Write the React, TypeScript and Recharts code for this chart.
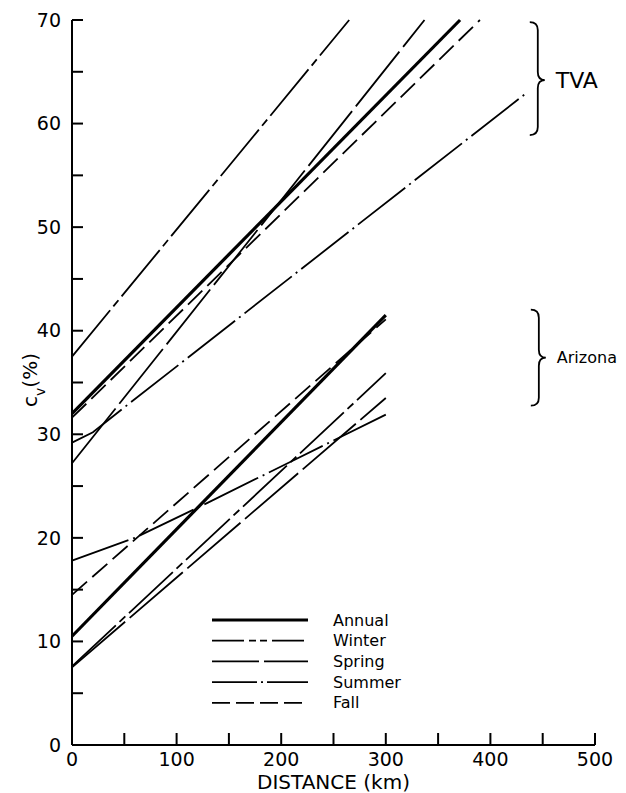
import React from "react";
import { LineChart, Line, XAxis, YAxis, ReferenceDot, Legend, Label } from "recharts";

const FONT = "DejaVu Sans";

const X_TICKS = [0, 50, 100, 150, 200, 250, 300, 350, 400, 450, 500];
const Y_TICKS = [0, 5, 10, 15, 20, 25, 30, 35, 40, 45, 50, 55, 60, 65, 70];

// [distance km, Cv %]
const tvaAnnual = [[0, 32], [371, 70]];
const tvaWinter = [[0, 37.5], [265, 70]];
const tvaSpring = [[0, 27.2], [337, 70]];
const tvaSummer = [[0, 29.2], [20, 30.2], [50, 32.6], [435, 63]];
const tvaFall = [[0, 31.6], [390, 70]];

const azAnnual = [[0, 10.5], [300, 41.5]];
const azWinter = [[0, 7.6], [300, 35.9]];
const azSpring = [[0, 7.5], [300, 33.5]];
const azSummer = [[0, 17.8], [60, 20], [130, 23.4], [210, 27.4], [300, 31.9]];
const azFall = [[0, 14.5], [300, 41.1]];

const SEASONS = ["Annual", "Winter", "Spring", "Summer", "Fall"];

const STYLE: Record<string, { w: number; dash?: string; legendDash?: string }> = {
  Annual: { w: 3.2 },
  Winter: { w: 1.8, dash: "60 5 8 5", legendDash: "32 5 7 4 7 5" },
  Spring: { w: 1.8, dash: "70 6", legendDash: "47 5" },
  Summer: { w: 1.8, dash: "60 5 2 5", legendDash: "45 4 2 4" },
  Fall: { w: 1.8, dash: "20 7", legendDash: "18 6" },
};

const toRows = (pts: number[][]) => pts.map(([d, v]) => ({ d, v }));

const tva: Record<string, number[][]> = {
  Annual: tvaAnnual, Winter: tvaWinter, Spring: tvaSpring, Summer: tvaSummer, Fall: tvaFall,
};
const az: Record<string, number[][]> = {
  Annual: azAnnual, Winter: azWinter, Spring: azSpring, Summer: azSummer, Fall: azFall,
};

const XTick = ({ x, y, payload }: any) => {
  const v = payload.value;
  return (
    <g>
      {v !== 0 && <line x1={x} x2={x} y1={y} y2={y - 12} stroke="#000" strokeWidth={2} />}
      {v % 100 === 0 && (
        <text x={x} y={y + 21} textAnchor="middle" fontFamily={FONT} fontSize={19} fill="#000">{v}</text>
      )}
    </g>
  );
};

const YTick = ({ x, y, payload }: any) => {
  const v = payload.value;
  return (
    <g>
      {v !== 0 && <line x1={x} x2={x + 11} y1={y} y2={y} stroke="#000" strokeWidth={2} />}
      {v % 10 === 0 && (
        <text x={x - 11} y={y} dy="0.35em" textAnchor="end" fontFamily={FONT} fontSize={19} fill="#000">{v}</text>
      )}
    </g>
  );
};

const XTitle = ({ viewBox }: any) => (
  <text x={viewBox.x + viewBox.width / 2} y={viewBox.y + 44} textAnchor="middle"
    fontFamily={FONT} fontSize={20} fill="#000">DISTANCE (km)</text>
);

const YTitle = ({ viewBox }: any) => {
  const cx = viewBox.x + 37;
  const cy = 380;
  return (
    <text x={cx} y={cy} transform={`rotate(-90 ${cx} ${cy})`} textAnchor="middle"
      fontFamily={FONT} fontSize={20} fill="#000">
      c<tspan fontSize={14} baselineShift="sub">v</tspan>(%)
    </text>
  );
};

// curly brace "}" with its tip at (cx, cy)
const brace = (label: string, up: number, down: number, fs: number) => ({ cx, cy }: any) => {
  const x0 = cx - 15, xm = cx - 7, r = 8;
  const top = cy - up, bot = cy + down;
  const d = `M ${x0} ${top} Q ${xm} ${top} ${xm} ${top + r} L ${xm} ${cy - r} Q ${xm} ${cy} ${cx} ${cy}
    Q ${xm} ${cy} ${xm} ${cy + r} L ${xm} ${bot - r} Q ${xm} ${bot} ${x0} ${bot}`;
  return (
    <g>
      <path d={d} fill="none" stroke="#000" strokeWidth={1.8} />
      <text x={cx + 11} y={cy} dy="0.35em" fontFamily={FONT} fontSize={fs} fill="#000">{label}</text>
    </g>
  );
};

const LegendBox = ({ payload }: any) => {
  const items = (payload || [])
    .filter((p: any) => STYLE[p.value])
    .sort((a: any, b: any) => SEASONS.indexOf(a.value) - SEASONS.indexOf(b.value));
  return (
    <svg width={220} height={110}>
      {items.map((p: any, i: number) => {
        const s = STYLE[p.value];
        const y = 10 + i * 20.7;
        return (
          <g key={p.value}>
            <line x1={0} x2={96} y1={y} y2={y} stroke="#000" strokeWidth={s.w}
              strokeDasharray={s.legendDash} />
            <text x={121} y={y} dy="0.35em" fontFamily={FONT} fontSize={16} fill="#000">{p.value}</text>
          </g>
        );
      })}
    </svg>
  );
};

export default function App() {
  return (
    <div style={{ position: "absolute", left: 0, top: 0, background: "#fff" }}>
      <LineChart width={626} height={793} margin={{ top: 20, right: 31, bottom: 0, left: 0 }}>
        <XAxis dataKey="d" type="number" domain={[0, 500]} ticks={X_TICKS} interval={0}
          height={48} tickSize={0} tickMargin={0} tickLine={false} tick={<XTick />}
          axisLine={{ stroke: "#000", strokeWidth: 2 }} allowDuplicatedCategory={false}>
          <Label content={<XTitle />} />
        </XAxis>
        <YAxis type="number" domain={[0, 70]} ticks={Y_TICKS} interval={0} width={72}
          tickSize={0} tickMargin={0} tickLine={false} tick={<YTick />}
          axisLine={{ stroke: "#000", strokeWidth: 2 }}>
          <Label content={<YTitle />} />
        </YAxis>
        {SEASONS.map((s) => (
          <Line key={"tva" + s} name={s} data={toRows(tva[s])} dataKey="v" type="linear"
            stroke="#000" strokeWidth={STYLE[s].w} strokeDasharray={STYLE[s].dash}
            dot={false} activeDot={false} isAnimationActive={false} />
        ))}
        {SEASONS.map((s) => (
          <Line key={"az" + s} name={"az" + s} legendType="none" data={toRows(az[s])} dataKey="v"
            type="linear" stroke="#000" strokeWidth={STYLE[s].w} strokeDasharray={STYLE[s].dash}
            dot={false} activeDot={false} isAnimationActive={false} />
        ))}
        <ReferenceDot x={452} y={64.2} r={0} shape={brace("TVA", 58, 55, 22)} />
        <ReferenceDot x={453} y={37.4} r={0} shape={brace("Arizona", 48, 48, 16)} />
        <Legend layout="horizontal" verticalAlign="middle" align="center" content={<LegendBox />}
          wrapperStyle={{ position: "absolute", left: 212, top: 610, width: 220, height: 110 }} />
      </LineChart>
    </div>
  );
}
